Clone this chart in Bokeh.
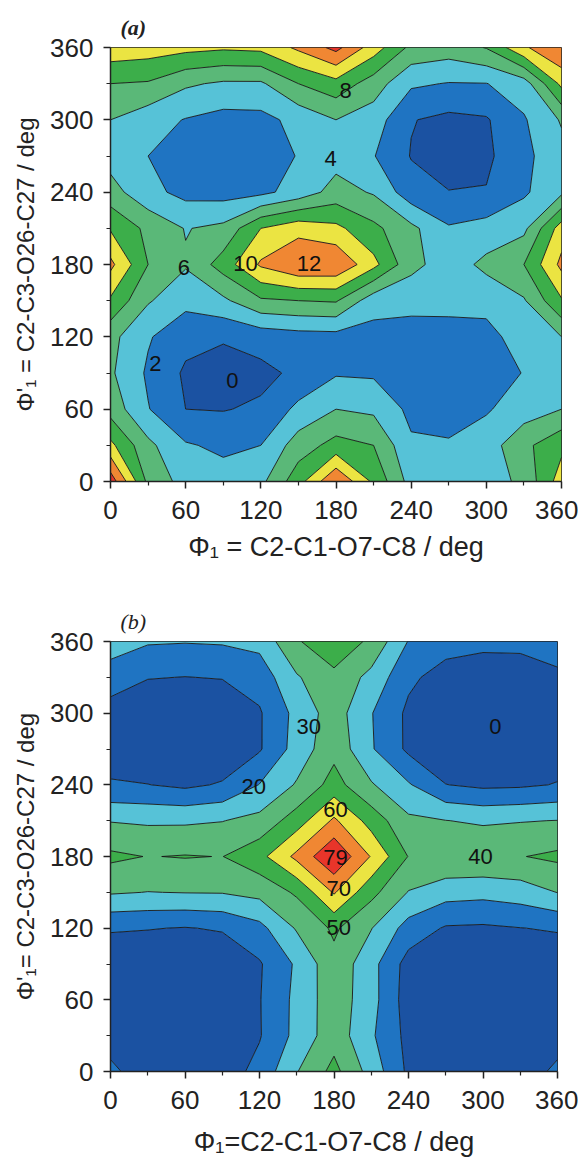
import numpy as np
from bokeh.plotting import figure
from bokeh.layouts import column
from bokeh.models import Range1d, FixedTicker
from bokeh.core.properties import value
from bokeh.embed import file_html
from bokeh.resources import INLINE

# torsion grid (deg), shared by both maps
phi = [0, 30, 60, 90, 120, 150, 180, 210, 240, 270, 300, 330, 360]
major_ticks = [0, 60, 120, 180, 240, 300, 360]
minor_ticks = [30, 90, 150, 210, 270, 330]

# ---- panel (a): relative energy, one row per Phi'1 value (0..360), columns Phi1 = 0..360
a_y000 = [15.2, 7.5, 5.2, 4.8, 5.5, 9.2, 13.95, 9.6, 5.2, 4.8, 5.0, 6.5, 11.0]
a_y030 = [10.5, 6.5, 4.2, 3.6, 4.0, 7.0, 8.7, 8.0, 4.3, 4.2, 5.0, 7.5, 9.5]
a_y060 = [7.2, 4.1, 2.0, 1.9, 2.3, 4.5, 6.0, 5.6, 3.5, 3.2, 3.8, 5.0, 6.0]
a_y090 = [6.3, 3.7, 1.7, 1.2, 1.5, 2.4, 3.8, 3.7, 2.8, 2.5, 2.8, 4.1, 5.0]
a_y120 = [6.6, 4.2, 2.6, 2.2, 2.8, 3.2, 3.3, 3.3, 3.2, 3.0, 3.3, 5.0, 6.0]
a_y150 = [9.7, 6.2, 4.6, 5.6, 7.7, 8.0, 8.2, 4.8, 4.6, 4.8, 4.7, 5.8, 9.8]
a_y180 = [12.5, 8.0, 6.2, 8.9, 12.3, 13.9, 13.8, 10.6, 6.6, 5.0, 6.5, 8.0, 12.5]
a_y210 = [9.8, 7.5, 5.9, 6.5, 10.0, 11.3, 10.5, 8.5, 6.5, 4.2, 4.8, 5.5, 11.0]
a_y240 = [6.8, 4.6, 3.4, 3.2, 3.5, 4.8, 6.8, 5.8, 2.8, 2.05, 2.1, 3.7, 5.6]
a_y270 = [5.2, 4.0, 3.0, 2.8, 3.0, 4.1, 5.2, 4.1, 1.9, 1.2, 1.6, 3.5, 5.3]
a_y300 = [6.0, 4.8, 3.9, 3.3, 3.4, 4.6, 6.0, 5.0, 2.1, 1.5, 1.8, 3.8, 6.2]
a_y330 = [8.0, 7.8, 6.3, 5.7, 5.7, 8.0, 9.3, 7.0, 4.3, 3.9, 3.95, 5.0, 10.5]
a_y360 = [11.3, 11.0, 10.6, 10.3, 10.5, 12.4, 14.6, 11.0, 7.5, 7.0, 8.1, 11.7, 13.9]
a_levels = [0, 2, 4, 6, 8, 10, 12, 14, 16]
a_label_x = [187.7, 175.7, 58.6, 107.8, 158.4, 35.9, 97.2]
a_label_y = [324.3, 267.6, 177.8, 180.5, 180.5, 97.6, 83.8]
a_label_t = ["8", "4", "6", "10", "12", "2", "0"]

# ---- panel (b)
b_y000 = [12, 5, 2, 5, 13, 29.5, 43, 26, 8, 4, 2, 5, 12]
b_y030 = [6, 2, 1, 3, 9.3, 22.9, 36, 21.5, 7, 3, 1, 2, 6]
b_y060 = [4, 1.5, 0.5, 2, 9.5, 22.6, 36, 23.8, 5, 1.5, 0.5, 1.5, 4]
b_y090 = [3, 1, 0.5, 2, 9, 21.5, 37, 23.5, 6, 1.5, 0.3, 1, 3]
b_y120 = [11, 10.5, 9.5, 11, 17, 31, 41.7, 30.4, 16, 9, 8.5, 9.8, 11]
b_y150 = [31, 29.8, 30.3, 30.5, 33, 41.5, 61, 43, 29.5, 24, 23, 25, 30.2]
b_y180 = [42, 39.7, 40.5, 39.8, 46.85, 62.6, 79, 59.3, 39.6, 39.3, 39.4, 39.6, 42]
b_y210 = [29.5, 28.5, 28.5, 29.7, 33, 45, 61.7, 46, 32, 30.2, 28.5, 29.5, 30.2]
b_y240 = [10.8, 10.2, 8, 11, 20.3, 31, 44, 31, 21, 10.2, 8, 8.5, 10.5]
b_y270 = [6, 2, 1, 2, 9, 24, 37, 21, 8, 2, 0.5, 1.5, 5]
b_y300 = [5, 1.5, 0.5, 1.5, 9, 23, 35, 20.5, 8, 2, 0.1, 1.5, 5]
b_y330 = [16, 10.5, 9.8, 10.5, 14, 29, 37.5, 27, 12, 6, 5.5, 6, 8]
b_y360 = [24, 21, 20.5, 21, 23, 39, 47, 38, 19.5, 14, 12, 12, 15]
b_levels = [0, 10, 20, 30, 40, 50, 60, 70, 80]
b_label_x = [310, 115.4, 159.7, 181.2, 181.2, 183.9, 183.9, 298]
b_label_y = [289, 238.9, 289.1, 219.4, 178.9, 152.9, 120.3, 179.7]
b_label_t = ["0", "20", "30", "60", "79", "70", "50", "40"]

palette = ["#1b52a2", "#1f74c2", "#56c2d7", "#5ab878", "#3cae4a",
           "#ebe442", "#f08733", "#e8352a"]

FONT = "Liberation Sans"


def panel(grid, levels, title, title_style, xlabel, ylabel, lx, ly, lt,
          fw, fh, bl, bt, br, bb, x_standoff):
    p = figure(frame_width=fw, frame_height=fh,
               x_range=Range1d(0, 360), y_range=Range1d(0, 360),
               output_backend="svg", toolbar_location=None,
               min_border_left=bl, min_border_top=bt,
               min_border_right=br, min_border_bottom=bb,
               title=title)
    p.contour(x=phi, y=phi, z=grid, levels=levels, fill_color=palette,
              line_color="#151515", line_width=0.9)
    p.text(x=lx, y=ly, text=lt, text_align="center", text_baseline="middle",
           text_font=value(FONT), text_font_size="22px", text_color="#111111")
    p.grid.visible = False
    p.background_fill_color = "white"
    p.border_fill_color = "white"
    p.outline_line_color = "#222222"
    p.outline_line_width = 1
    for ax in (p.xaxis[0], p.yaxis[0]):
        ax.ticker = FixedTicker(ticks=major_ticks, minor_ticks=minor_ticks)
        ax.axis_line_width = 1.5
        ax.axis_line_color = "#222222"
        ax.major_tick_line_width = 1.5
        ax.major_tick_line_color = "#222222"
        ax.minor_tick_line_width = 1.2
        ax.minor_tick_line_color = "#222222"
        ax.major_tick_out = 7
        ax.major_tick_in = 0
        ax.minor_tick_out = 4
        ax.minor_tick_in = 0
        ax.major_label_text_font = FONT
        ax.major_label_text_font_size = "26px"
        ax.major_label_text_color = "#222222"
        ax.axis_label_text_font = FONT
        ax.axis_label_text_font_style = "normal"
        ax.axis_label_text_color = "#222222"
    p.xaxis.axis_label = xlabel
    p.yaxis.axis_label = ylabel
    p.xaxis.axis_label_text_font_size = "27px"
    p.yaxis.axis_label_text_font_size = "24px"
    p.xaxis.major_label_standoff = 12
    p.yaxis.major_label_standoff = 10
    p.xaxis.axis_label_standoff = x_standoff
    p.yaxis.axis_label_standoff = 8
    p.title.text_font = "Liberation Serif"
    p.title.text_font_style = title_style
    p.title.text_font_size = "22px"
    p.title.text_color = "#222222"
    p.title.offset = 10
    p.title.standoff = 15
    return p


grid_a = np.array([a_y000, a_y030, a_y060, a_y090, a_y120, a_y150, a_y180,
                   a_y210, a_y240, a_y270, a_y300, a_y330, a_y360])
grid_b = np.array([b_y000, b_y030, b_y060, b_y090, b_y120, b_y150, b_y180,
                   b_y210, b_y240, b_y270, b_y300, b_y330, b_y360])

pa = panel(grid_a, a_levels, "(a)", "bold italic",
           "\u03a6\u2081 = C2-C1-O7-C8 / deg",
           "\u03a6'\u2081 = C2-C3-O26-C27 / deg",
           a_label_x, a_label_y, a_label_t,
           451, 434, 108, 47, 19, 110, 10)
pb = panel(grid_b, b_levels, "(b)", "italic",
           "\u03a6\u2081=C2-C1-O7-C8 / deg",
           "\u03a6'\u2081= C2-C3-O26-C27 / deg",
           b_label_x, b_label_y, b_label_t,
           447, 430, 110, 50, 21, 86, 15)

layout = column(pa, pb)
open("out.html", "w").write(file_html(layout, INLINE))
